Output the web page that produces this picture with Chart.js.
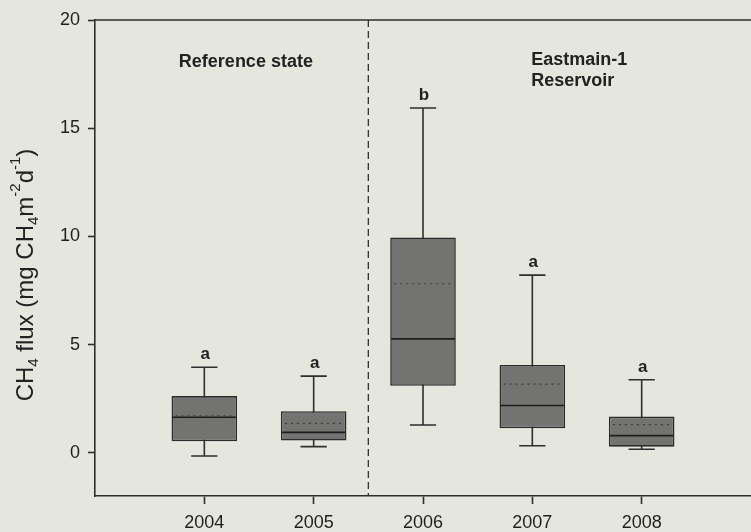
<!DOCTYPE html>
<html>
<head>
<meta charset="utf-8">
<title>CH4 flux box plot</title>
<script src="https://cdn.jsdelivr.net/npm/chart.js@4/dist/chart.umd.min.js"></script>
<style>
  html, body { margin: 0; padding: 0; background: #e5e7df; }
  #wrap { width: 751px; height: 532px; position: relative; }
</style>
</head>
<body>
<div id="wrap"><canvas id="fluxChart"></canvas></div>
<script>
// Box plot values (mg CH4 m-2 d-1)
const years = [2004, 2005, 2006, 2007, 2008];
const whiskerLow = [-0.15, 0.28, 1.28, 0.32, 0.16];
const q1 = [0.53, 0.56, 3.09, 1.13, 0.28];
const median = [1.64, 0.94, 5.26, 2.18, 0.79];
const mean = [1.70, 1.36, 7.81, 3.17, 1.30];
const q3 = [2.62, 1.92, 9.95, 4.06, 1.67];
const whiskerHigh = [3.95, 3.54, 15.93, 8.21, 3.37];
const letters = ['a', 'a', 'b', 'a', 'a'];

const yTicks = [0, 5, 10, 15, 20];
const FONT = '"Liberation Sans", Arial, sans-serif';
const INK = '#2e2e2e';

// whiskers, medians, means, letters, divider, frame and the axis title
const boxExtras = {
    id: 'boxExtras',
    beforeDatasetsDraw(chart) {
        const { ctx, scales: { x, y } } = chart;
        ctx.save();
        ctx.strokeStyle = INK;
        ctx.lineWidth = 1.6;
        years.forEach((yr, i) => {
            const cx = x.getPixelForValue(yr);
            const capW = (x.getPixelForValue(yr + 0.12) - cx);
            ctx.beginPath();
            ctx.moveTo(cx, y.getPixelForValue(whiskerLow[i]));
            ctx.lineTo(cx, y.getPixelForValue(whiskerHigh[i]));
            [whiskerLow[i], whiskerHigh[i]].forEach(v => {
                const py = y.getPixelForValue(v);
                ctx.moveTo(cx - capW, py);
                ctx.lineTo(cx + capW, py);
            });
            ctx.stroke();
        });
        ctx.restore();
    },
    afterDatasetsDraw(chart) {
        const { ctx, chartArea: area, scales: { x, y } } = chart;
        ctx.save();
        const half = x.getPixelForValue(2003.3) - x.getPixelForValue(2003);
        years.forEach((yr, i) => {
            const cx = x.getPixelForValue(yr);
            // median
            ctx.strokeStyle = '#1e1e1e';
            ctx.lineWidth = 1.6;
            ctx.setLineDash([]);
            ctx.beginPath();
            const my = y.getPixelForValue(median[i]);
            ctx.moveTo(cx - half + 1, my);
            ctx.lineTo(cx + half - 1, my);
            ctx.stroke();
            // mean (dotted)
            ctx.strokeStyle = '#3c3c3c';
            ctx.lineWidth = 1.2;
            ctx.setLineDash([2, 4]);
            ctx.beginPath();
            const ay = y.getPixelForValue(mean[i]);
            ctx.moveTo(cx - half + 4, ay);
            ctx.lineTo(cx + half - 2, ay);
            ctx.stroke();
            // significance letter
            ctx.setLineDash([]);
            ctx.fillStyle = '#222';
            ctx.font = 'bold 17px ' + FONT;
            ctx.textAlign = 'center';
            ctx.textBaseline = 'bottom';
            ctx.fillText(letters[i], cx + 1, y.getPixelForValue(whiskerHigh[i]) - 4);
        });

        // dashed divider between the two periods
        const dx = x.getPixelForValue(2005.5);
        ctx.strokeStyle = '#333';
        ctx.lineWidth = 1.3;
        ctx.setLineDash([7, 4]);
        ctx.beginPath();
        ctx.moveTo(dx, area.top);
        ctx.lineTo(dx, area.bottom);
        ctx.stroke();
        ctx.setLineDash([]);

        // top frame line
        ctx.strokeStyle = INK;
        ctx.lineWidth = 1.6;
        ctx.beginPath();
        ctx.moveTo(area.left, area.top);
        ctx.lineTo(area.right, area.top);
        ctx.stroke();

        // group labels
        ctx.fillStyle = '#222';
        ctx.font = 'bold 18px ' + FONT;
        ctx.textBaseline = 'middle';
        ctx.textAlign = 'center';
        ctx.fillText('Reference state', x.getPixelForValue(2004.38), y.getPixelForValue(18.05));
        ctx.textAlign = 'left';
        ctx.fillText('Eastmain-1', x.getPixelForValue(2006.99), y.getPixelForValue(18.15));
        ctx.fillText('Reservoir', x.getPixelForValue(2006.99), y.getPixelForValue(17.2));

        // y axis title with sub/superscripts
        const parts = [
            ['CH', 0], ['4', 1], [' flux (mg CH', 0], ['4', 1], ['m', 0],
            ['-2', -1], ['d', 0], ['-1', -1], [')', 0]
        ];
        const big = '24px ' + FONT, small = '15px ' + FONT;
        let total = 0;
        parts.forEach(([t, k]) => { ctx.font = k ? small : big; total += ctx.measureText(t).width; });
        ctx.translate(26, 275);
        ctx.rotate(-Math.PI / 2);
        ctx.fillStyle = '#222';
        ctx.textAlign = 'left';
        ctx.textBaseline = 'middle';
        let px = -total / 2;
        parts.forEach(([t, k]) => {
            ctx.font = k ? small : big;
            const off = k === 1 ? 8 : (k === -1 ? -10 : 0);
            ctx.fillText(t, px, off);
            px += ctx.measureText(t).width;
        });
        ctx.restore();
    }
};

const boxData = years.map((yr, i) => ({ x: yr, y: [q1[i], q3[i]] }));

new Chart(document.getElementById('fluxChart'), {
    type: 'bar',
    data: {
        datasets: [{
            data: boxData,
            backgroundColor: '#737371',
            borderColor: '#2a2a2a',
            borderWidth: 1.6,
            borderSkipped: false,
            barPercentage: 0.6,
            categoryPercentage: 1.0
        }]
    },
    options: {
        responsive: true,
        maintainAspectRatio: false,
        animation: false,
        layout: { padding: { top: 20, right: 0, left: 0, bottom: 0 } },
        plugins: {
            legend: { display: false },
            tooltip: { enabled: false }
        },
        scales: {
            x: {
                type: 'linear',
                min: 2003,
                max: 2009,
                offset: false,
                afterBuildTicks: s => { s.ticks = years.map(v => ({ value: v })); },
                afterFit: s => { s.height = 36; },
                grid: {
                    offset: false,
                    drawOnChartArea: false,
                    drawTicks: true,
                    tickLength: 8,
                    tickColor: INK,
                    tickWidth: 1.6
                },
                border: { color: INK, width: 1.6 },
                ticks: {
                    color: '#1f1f1f',
                    font: { family: FONT, size: 18 },
                    padding: 8,
                    maxRotation: 0,
                    callback: v => String(v)
                }
            },
            y: {
                min: -2,
                max: 20,
                afterBuildTicks: s => { s.ticks = yTicks.map(v => ({ value: v })); },
                afterFit: s => { s.width = 95; },
                grid: {
                    drawOnChartArea: false,
                    drawTicks: true,
                    tickLength: 7,
                    tickColor: INK,
                    tickWidth: 1.6
                },
                border: { color: INK, width: 1.6 },
                ticks: {
                    color: '#1f1f1f',
                    font: { family: FONT, size: 18 },
                    padding: 8
                }
            }
        }
    },
    plugins: [boxExtras]
});
</script>
</body>
</html>
